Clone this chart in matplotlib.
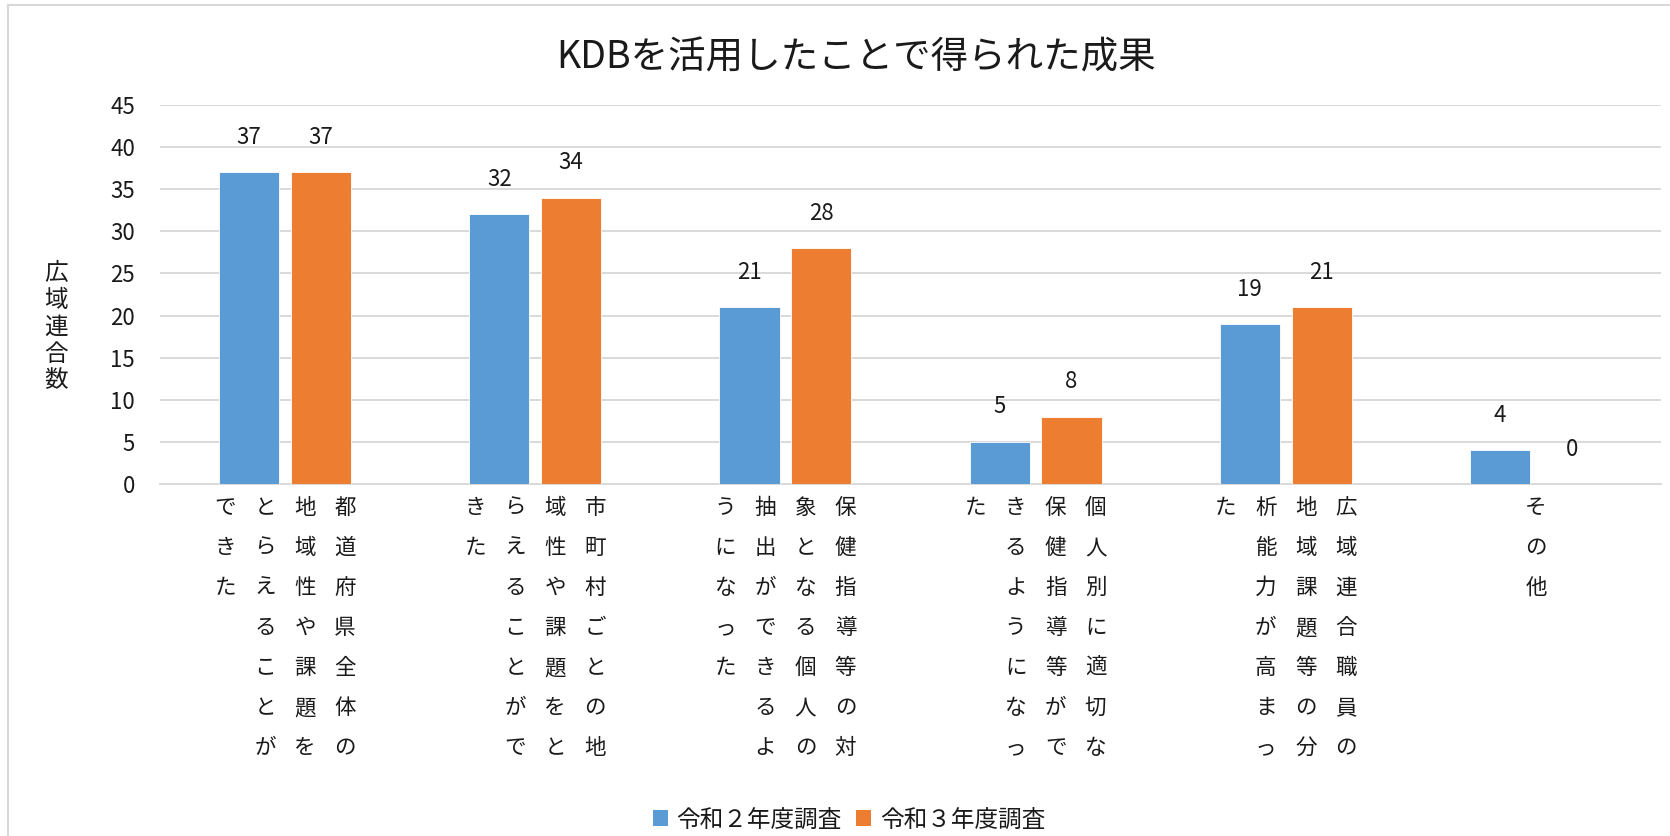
import matplotlib
matplotlib.use('Agg')
import matplotlib.pyplot as plt
import matplotlib.transforms as mtransforms
from matplotlib.lines import Line2D
from matplotlib.patches import Patch
import numpy as np

plt.rcParams['font.family'] = ['Noto Sans CJK JP', 'DejaVu Sans']

# ---------------- data ----------------
title = "KDBを活用したことで得られた成果"
categories = [
    "都道府県全体の地域性や課題をとらえることができた",
    "市町村ごとの地域性や課題をとらえることができた",
    "保健指導等の対象となる個人の抽出ができるようになった",
    "個人別に適切な保健指導等ができるようになった",
    "広域連合職員の地域課題等の分析能力が高まった",
    "その他",
]
series_names = ["令和２年度調査", "令和３年度調査"]
r2_values = [37, 32, 21, 5, 19, 4]
r3_values = [37, 34, 28, 8, 21, 0]
y_ticks = [0, 5, 10, 15, 20, 25, 30, 35, 40, 45]
y_label = "広域連合数"

# ---------------- style ----------------
W, H, DPI = 1670, 836, 100
blue = "#5B9BD5"
orange = "#ED7D31"
grid_c = "#D9D9D9"
text_c = "#1a1a1a"

fig = plt.figure(figsize=(W / DPI, H / DPI), dpi=DPI)
fig.patch.set_facecolor("white")

# outer chart border (left & top visible)
fig.add_artist(Line2D([8 / W, 8 / W], [0, 1 - 5 / H], transform=fig.transFigure,
                      color=grid_c, lw=1.5))
fig.add_artist(Line2D([8 / W, 1], [1 - 5 / H, 1 - 5 / H], transform=fig.transFigure,
                      color=grid_c, lw=1.5))

ax = fig.add_axes([160 / W, 1 - 484 / H, 1501 / W, 379 / H])
x = np.arange(len(categories))
bw = 0.24
off = 0.1435
b1 = ax.bar(x - off, r2_values, bw, color=blue, edgecolor="white", linewidth=0.6, zorder=3)
b2 = ax.bar(x + off, r3_values, bw, color=orange, edgecolor="white", linewidth=0.6, zorder=3)

ax.set_xlim(-0.5, len(categories) - 0.5)
ax.set_ylim(0, 45)
ax.set_yticks(y_ticks)
ax.set_xticks([])
ax.yaxis.grid(True, color=grid_c, lw=1.4, zorder=0)
ax.set_axisbelow(True)
for s in ["top", "right", "left"]:
    ax.spines[s].set_visible(False)
ax.spines["bottom"].set_color(grid_c)
ax.spines["bottom"].set_linewidth(1.4)
ax.tick_params(axis="y", length=0, pad=18, labelsize=16, labelcolor=text_c)

# data labels
for bars, vals in ((b1, r2_values), (b2, r3_values)):
    for rect, v in zip(bars, vals):
        ax.annotate(str(v), (rect.get_x() + rect.get_width() / 2, v),
                    xytext=(0, 20.5), textcoords="offset points",
                    ha="center", va="baseline", fontsize=16, color=text_c)

# vertical (tategaki) category labels
base = ax.get_xaxis_transform()
for i, lab in enumerate(categories):
    chunks = [lab[k:k + 7] for k in range(0, len(lab), 7)]
    n = len(chunks)
    for j, chunk in enumerate(chunks):
        dx = ((n - 1) / 2 - j) * 40
        for r, ch in enumerate(chunk):
            dy = -(24 + 40 * r)
            tr = base + mtransforms.ScaledTranslation(dx / DPI, dy / DPI, fig.dpi_scale_trans)
            ax.text(i, 0, ch, transform=tr, ha="center", va="center",
                    fontsize=15.5, color=text_c, clip_on=False)

# y-axis label, stacked characters
for r, ch in enumerate(y_label):
    fig.text(56 / W, 1 - (274 + 26.7 * r) / H, ch, ha="center", va="center",
             fontsize=17, color=text_c)

# title
fig.text(856 / W, 1 - 58 / H, title, ha="center", va="center", fontsize=27, color=text_c)

# legend
handles = [Patch(facecolor=blue, edgecolor="none"), Patch(facecolor=orange, edgecolor="none")]
fig.legend(handles, series_names, loc="center", bbox_to_anchor=(849 / W, 1 - 820 / H),
           ncol=2, frameon=False, fontsize=17, handlelength=0.65, handleheight=0.65,
           handletextpad=0.35, columnspacing=0.6, labelcolor=text_c)

fig.savefig("out.png", dpi=DPI)
